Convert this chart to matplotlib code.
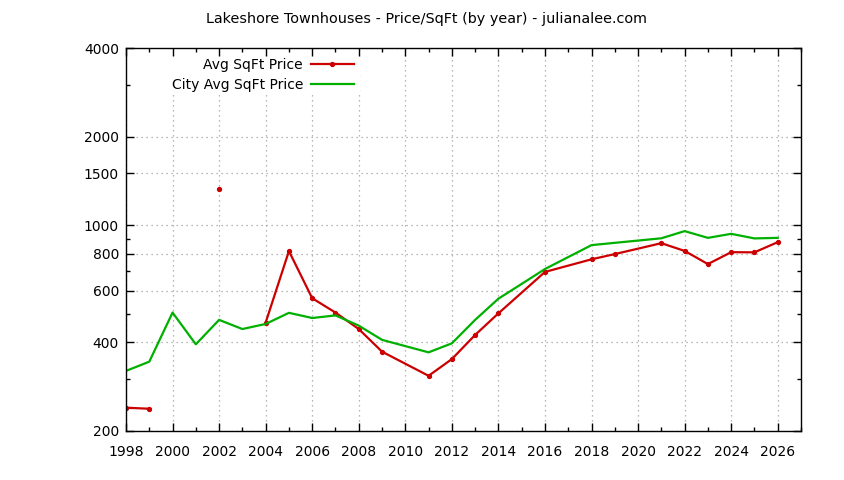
import numpy as np
import matplotlib
matplotlib.use("Agg")
import matplotlib.pyplot as plt
from matplotlib.ticker import FixedLocator, NullFormatter, FixedFormatter
from matplotlib.patches import Rectangle

# ---------------- data ----------------
title = "Lakeshore Townhouses - Price/SqFt (by year) - julianalee.com"
label_avg = "Avg SqFt Price"
label_city = "City Avg SqFt Price"

avg_years = [1998, 1999, 2000, 2002, 2003, 2004, 2005, 2006, 2007, 2008, 2009,
             2011, 2012, 2013, 2014, 2016, 2018, 2019, 2021, 2022, 2023, 2024,
             2025, 2026]
avg_price = [240, 238, np.nan, 1325, np.nan, 467, 817, 565, 505, 444, 372,
             308, 351, 424, 502, 694, 766, 798, 869, 818, 738, 810,
             809, 876]

city_years = [1998, 1999, 2000, 2001, 2002, 2003, 2004, 2005, 2006, 2007, 2008,
              2009, 2011, 2012, 2013, 2014, 2015, 2016, 2018, 2021, 2022, 2023,
              2024, 2025, 2026]
city_price = [320, 344, 505, 394, 477, 444, 462, 504, 484, 494, 456,
              408, 370, 397, 477, 563, 632, 710, 856, 903, 955, 906,
              935, 902, 906]

x_major = list(range(1998, 2027, 2))
x_minor = list(range(1998, 2028, 1))
y_major = [200, 400, 600, 800, 1000, 1500, 2000, 4000]
y_labels = ["200", "400", "600", "800", "1000", "1500", "2000", "4000"]
y_minor = [300, 500, 700, 900, 3000]

RED = "#cc0000"
GREEN = "#00b000"
GRID = "#a0a0a0"
FS = 10

W, H = 844, 480
fig = plt.figure(figsize=(W / 100, H / 100), dpi=100)
plt.rcParams["font.family"] = ["DejaVu Sans"]

L, R, T, B = 126, 801, 48, 431
pos = [L / W, 1 - B / H, (R - L) / W, (B - T) / H]

# main axes: grid + data
ax = fig.add_axes(pos)
ax.set_yscale("log")
ax.set_xlim(1998, 2027)
ax.set_ylim(200, 4000)
ax.xaxis.set_major_locator(FixedLocator(x_minor))
ax.yaxis.set_major_locator(FixedLocator(y_major))
ax.yaxis.set_minor_locator(FixedLocator([]))
ax.tick_params(which="both", length=0, labelbottom=False, labelleft=False)
ax.grid(True, which="major", color=GRID, linestyle=(0, (1, 3)), linewidth=0.9)
for s in ax.spines.values():
    s.set_visible(False)

ax.plot(avg_years, avg_price, color=RED, lw=1.6, marker="o", ms=2.8,
        label=label_avg, zorder=3)
ax.plot(city_years, city_price, color=GREEN, lw=1.6, label=label_city, zorder=3)

# key area (opaque, hides grid like the original)
key_w = (360 - L) / (R - L)
key_h = (95 - T) / (B - T)
ax.add_patch(Rectangle((0, 1 - key_h), key_w, key_h, transform=ax.transAxes,
                       facecolor="white", edgecolor="none", zorder=1.8))

leg = ax.legend(loc="upper right", bbox_to_anchor=(354 / W, 1 - 58 / H),
                bbox_transform=fig.transFigure, frameon=False,
                markerfirst=False, fontsize=FS, handlelength=3.1,
                handletextpad=0.58, labelspacing=0.4, borderpad=0.0,
                borderaxespad=0.0)

# overlay axes: border, ticks, labels
ax2 = fig.add_axes(pos, sharex=ax, sharey=ax)
ax2.patch.set_visible(False)
ax2.set_yscale("log")
ax2.set_xlim(1998, 2027)
ax2.set_ylim(200, 4000)
ax2.xaxis.set_major_locator(FixedLocator(x_major))
ax2.xaxis.set_minor_locator(FixedLocator(x_minor))
ax2.yaxis.set_major_locator(FixedLocator(y_major))
ax2.yaxis.set_major_formatter(FixedFormatter(y_labels))
ax2.yaxis.set_minor_locator(FixedLocator(y_minor))
ax2.yaxis.set_minor_formatter(NullFormatter())
ax2.xaxis.set_major_formatter(matplotlib.ticker.FormatStrFormatter("%d"))
ax2.tick_params(which="major", direction="in", length=5.5, width=1,
                top=True, right=True, labelsize=FS, color="black")
ax2.tick_params(axis="x", which="major", pad=10)
ax2.tick_params(axis="y", which="major", pad=5)
ax2.tick_params(which="minor", direction="in", length=2.8, width=1,
                top=True, right=True)
for s in ax2.spines.values():
    s.set_linewidth(1)
    s.set_color("black")

fig.text(426 / W, 1 - 19 / H, title, ha="center", va="center", fontsize=10.4)

fig.savefig("out.png", dpi=100)
